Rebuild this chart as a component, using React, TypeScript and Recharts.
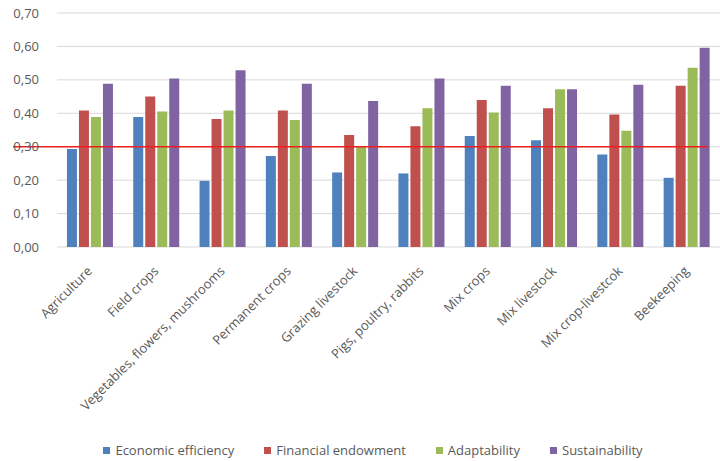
import {
  Bar,
  BarChart,
  CartesianGrid,
  Legend,
  ReferenceLine,
  XAxis,
  YAxis,
} from 'recharts';

const categories = [
  'Agriculture',
  'Field crops',
  'Vegetables, flowers, mushrooms',
  'Permanent crops',
  'Grazing livestock',
  'Pigs, poultry, rabbits',
  'Mix crops',
  'Mix livestock',
  'Mix crop-livestcok',
  'Beekeeping',
];

const economicEfficiency = [0.293, 0.389, 0.198, 0.272, 0.223, 0.22, 0.332, 0.319, 0.277, 0.207];
const financialEndowment = [0.408, 0.45, 0.383, 0.408, 0.335, 0.361, 0.44, 0.415, 0.396, 0.482];
const adaptability = [0.389, 0.405, 0.408, 0.38, 0.302, 0.415, 0.402, 0.472, 0.348, 0.536];
const sustainability = [0.488, 0.504, 0.529, 0.488, 0.437, 0.504, 0.482, 0.472, 0.485, 0.596];

const yTicks = [0, 0.1, 0.2, 0.3, 0.4, 0.5, 0.6, 0.7];
const threshold = 0.3;

const series = [
  { key: 'economic', name: 'Economic efficiency', color: '#4F81BD' },
  { key: 'financial', name: 'Financial endowment', color: '#C0504D' },
  { key: 'adapt', name: 'Adaptability', color: '#9BBB59' },
  { key: 'sustain', name: 'Sustainability', color: '#8064A2' },
];

const data = categories.map((name, i) => ({
  name,
  economic: economicEfficiency[i],
  financial: financialEndowment[i],
  adapt: adaptability[i],
  sustain: sustainability[i],
}));

const FONT = '"Open Sans", sans-serif';
const TEXT = '#595959';

function AngledTick({ x, y, payload }: any) {
  return (
    <g transform={`translate(${x},${y + 14})`}>
      <text
        transform="rotate(-45)"
        textAnchor="end"
        fill={TEXT}
        fontSize={13}
        fontFamily={FONT}
        dy={4}
      >
        {payload.value}
      </text>
    </g>
  );
}

function LegendRow() {
  return (
    <div
      style={{
        display: 'flex',
        justifyContent: 'center',
        gap: 30,
        fontFamily: FONT,
        fontSize: 13,
        color: TEXT,
        paddingLeft: 26,
        paddingTop: 10,
      }}
    >
      {series.map((s) => (
        <span key={s.key} style={{ display: 'flex', alignItems: 'center' }}>
          <span style={{ width: 7, height: 7, background: s.color, marginRight: 5 }} />
          {s.name}
        </span>
      ))}
    </div>
  );
}

function ThresholdLine(props: any) {
  const { x1, x2, y1 } = props;
  return <line x1={x1 - 44} x2={x2 - 12} y1={y1} y2={y1} stroke="#f01e1e" strokeWidth={1.5} />;
}

export default function App() {
  return (
    <div style={{ width: 720, height: 461, background: '#fff' }}>
      <style>{'body{margin:0}'}</style>
      <BarChart
        width={720}
        height={461}
        data={data}
        margin={{ top: 13, right: 0, left: 0, bottom: 0 }}
        barGap={2}
        barCategoryGap="15%"
      >
        <CartesianGrid vertical={false} stroke="#d9d9d9" />
        <XAxis
          dataKey="name"
          interval={0}
          tick={<AngledTick />}
          tickLine={false}
          axisLine={false}
          height={184}
        />
        <YAxis
          domain={[0, 0.7]}
          ticks={yTicks}
          width={57}
          tickLine={false}
          axisLine={false}
          tickFormatter={(v: number) => v.toFixed(2).replace('.', ',')}
          tick={{ fill: TEXT, fontSize: 13, fontFamily: FONT }}
          tickMargin={12}
        />
        <Legend verticalAlign="bottom" height={30} content={<LegendRow />} />
        {series.map((s) => (
          <Bar
            key={s.key}
            dataKey={s.key}
            name={s.name}
            fill={s.color}
            isAnimationActive={false}
          />
        ))}
        <ReferenceLine y={threshold} shape={<ThresholdLine />} ifOverflow="visible" />
      </BarChart>
    </div>
  );
}
